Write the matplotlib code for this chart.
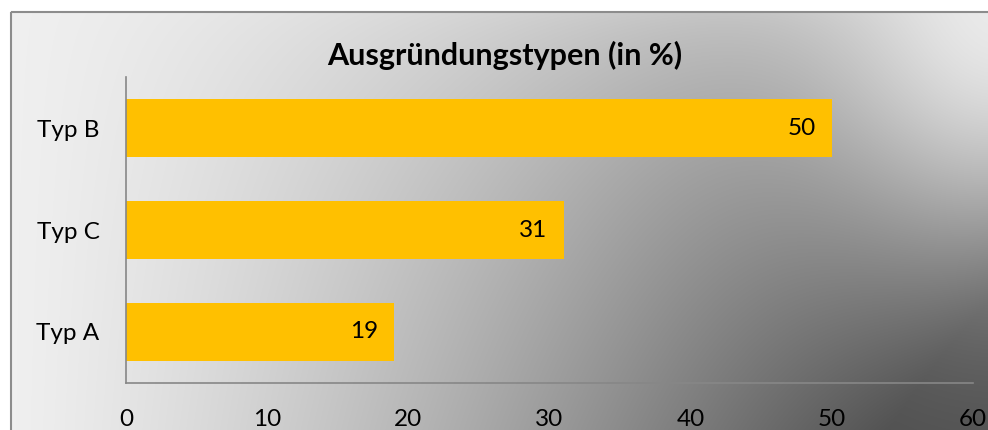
import numpy as np
import matplotlib.pyplot as plt
from matplotlib.patches import Rectangle

categories = ["Typ A", "Typ C", "Typ B"]
values = [19, 31, 50]
x_ticks = [0, 10, 20, 30, 40, 50, 60]
title = "Ausgründungstypen (in %)"

bar_color = "#FFC000"
axis_color = "#878787"
font = "Lato"

W, H = 988, 430
fig = plt.figure(figsize=(W / 100, H / 100), dpi=100)

# background gradient (light left/top, dark towards bottom right, highlight top right)
xx, yy = np.meshgrid(np.arange(W), np.arange(H))
fx = (xx / W) ** 1.35
fy = 0.3 + 0.7 * (yy / H) ** 0.6
base = np.maximum(0.94 - 0.74 * fx * fy, 0.30)
w = np.exp(-(((xx - 1000) / 190.0) ** 2 + ((yy + 10) / 260.0) ** 2))
bg = base * (1 - w) + 0.92 * w
bg[(xx < 10) | (yy < 11)] = 1.0
rgb = np.dstack([bg, bg, bg])

bg_ax = fig.add_axes([0, 0, 1, 1])
bg_ax.imshow(rgb, extent=(0, W, H, 0), aspect="auto", interpolation="bilinear")
bg_ax.set_xlim(0, W)
bg_ax.set_ylim(H, 0)
bg_ax.axis("off")
bg_ax.add_patch(Rectangle((10.5, 11.5), W + 20, H + 20, fill=False,
                          edgecolor="#8c8c8c", linewidth=1.5))

ax = fig.add_axes([126 / W, 1 - 383 / H, (973 - 126) / W, (383 - 77) / H])
ax.patch.set_alpha(0)

y = np.arange(len(categories))
bars = ax.barh(y, values, height=0.57, color=bar_color)
for b, v in zip(bars, values):
    ax.text(b.get_width() - 1.15, b.get_y() + b.get_height() / 2, str(v),
            ha="right", va="center", fontsize=17.5, family=font, color="black")

ax.set_xlim(0, 60)
ax.set_ylim(-0.5, 2.5)
ax.set_xticks(x_ticks)
ax.set_xticklabels([str(t) for t in x_ticks], fontsize=17.5, family=font)
ax.set_yticks(y)
ax.set_yticklabels(categories, fontsize=17.5, family=font)
ax.tick_params(axis="x", length=0, pad=19)
ax.tick_params(axis="y", length=0, pad=19)

for s in ["top", "right"]:
    ax.spines[s].set_visible(False)
for s in ["left", "bottom"]:
    ax.spines[s].set_color(axis_color)
    ax.spines[s].set_linewidth(1.2)

fig.text(505 / W, 1 - 55 / H, title, ha="center", va="center",
         fontsize=22, fontweight="bold", family=font)

fig.savefig("out.png", dpi=100)
